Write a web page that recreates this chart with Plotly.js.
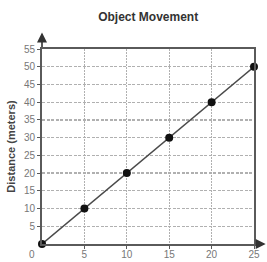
<!DOCTYPE html>
<html><head><meta charset="utf-8">
<script src="https://cdn.plot.ly/plotly-3.0.1.min.js"></script>
<style>html,body{margin:0;padding:0;background:#fff}#c{width:267px;height:262px}</style>
</head><body><div id="c"></div>
<script>
const timeSec = [0, 5, 10, 15, 20, 25];
const distanceM = [0, 10, 20, 30, 40, 50];
const xTicks = [5, 10, 15, 20, 25];
const yTicks = [5, 10, 15, 20, 25, 30, 35, 40, 45, 50, 55];
const chartTitle = 'Object Movement';
const yTitle = 'Distance (meters)';
const zeroLabel = '0';

const trace = {
  x: timeSec, y: distanceM, type: 'scatter', mode: 'lines+markers',
  line: {color: '#4a4a4a', width: 1.5},
  marker: {color: '#111', size: 8},
  cliponaxis: false, hoverinfo: 'skip'
};
const axisCommon = {
  showline: true, mirror: true, linecolor: '#5a5a5a', linewidth: 2,
  ticks: 'outside', ticklen: 3, tickcolor: '#5a5a5a', tickwidth: 1,
  gridcolor: '#b0b0b0', gridwidth: 1.2, zeroline: false,
  tickfont: {family: 'Liberation Sans, Arial, sans-serif', size: 10, color: '#777'},
  fixedrange: true
};
const layout = {
  width: 267, height: 262,
  margin: {l: 42, r: 13, t: 49, b: 18},
  paper_bgcolor: '#fff', plot_bgcolor: '#fff',
  showlegend: false,
  title: {text: '<b>' + chartTitle + '</b>', x: 0.555, xanchor: 'center', y: 0.935, yanchor: 'middle',
    font: {family: 'Liberation Sans, Arial, sans-serif', size: 12, color: '#333'}},
  xaxis: Object.assign({}, axisCommon, {range: [0, 25], tickvals: xTicks, griddash: '2px,1px', ticklabelstandoff: -3}),
  yaxis: Object.assign({}, axisCommon, {range: [0, 55], tickvals: yTicks, griddash: '3px,1.5px',
    title: {text: '<b>' + yTitle + '</b>', standoff: 6,
      font: {family: 'Liberation Sans, Arial, sans-serif', size: 11, color: '#444'}}}),
  shapes: [
    {type: 'line', xref: 'paper', yref: 'paper', x0: 0, x1: 0, y0: 1, y1: 1.075, line: {color: '#5a5a5a', width: 2}},
    {type: 'line', xref: 'paper', yref: 'paper', x0: 1, x1: 1.045, y0: 0, y1: 0, line: {color: '#5a5a5a', width: 2}}
  ],
  annotations: [
    {xref: 'paper', yref: 'paper', x: 0, y: 1.085, ax: 0, ay: 8, showarrow: true, arrowhead: 2, arrowsize: 1, arrowwidth: 2, arrowcolor: '#333', text: ''},
    {xref: 'paper', yref: 'paper', x: 1.055, y: 0, ax: -8, ay: 0, showarrow: true, arrowhead: 2, arrowsize: 1, arrowwidth: 2, arrowcolor: '#333', text: ''},
    {xref: 'paper', yref: 'paper', x: -0.047, y: -0.056, xanchor: 'center', yanchor: 'middle', showarrow: false, text: zeroLabel,
      font: {family: 'Liberation Sans, Arial, sans-serif', size: 10, color: '#777'}}
  ]
};
Plotly.newPlot('c', [trace], layout, {staticPlot: true});
</script></body></html>
